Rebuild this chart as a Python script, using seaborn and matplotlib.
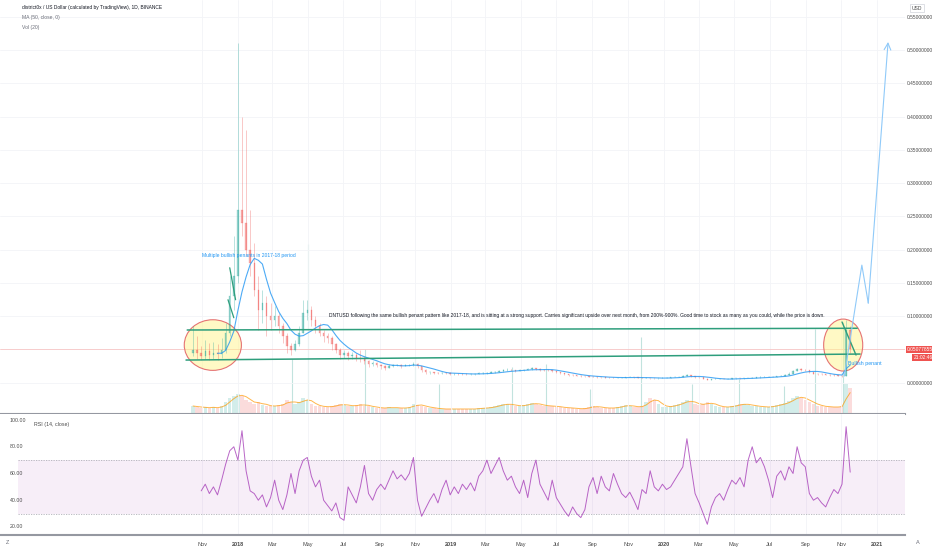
import numpy as np
import pandas as pd
import matplotlib
matplotlib.use("Agg")
import matplotlib.pyplot as plt
import matplotlib.transforms as mtransforms
from matplotlib.patches import Ellipse
import seaborn as sns

# ---------------- DATA (weekly candles) ----------------
start_date = "2017-10-16"
first_open = 0.045

closes = [
    0.050, 0.045, 0.040, 0.048, 0.042, 0.045, 0.043, 0.050, 0.075, 0.130,
    0.160, 0.260, 0.240, 0.200, 0.180, 0.140, 0.110, 0.120, 0.100, 0.095,
    0.100, 0.085, 0.070, 0.055, 0.050, 0.058, 0.075, 0.105, 0.110, 0.095,
    0.085, 0.075, 0.070, 0.068, 0.058, 0.050, 0.042, 0.045, 0.040, 0.042,
    0.038, 0.036, 0.033, 0.028, 0.030, 0.027, 0.025, 0.023, 0.026, 0.027,
    0.027, 0.026, 0.027, 0.027, 0.028, 0.025, 0.020, 0.016, 0.016, 0.015,
    0.0145, 0.015, 0.0145, 0.014, 0.014, 0.0138, 0.0135, 0.013, 0.0132, 0.0138,
    0.0145, 0.015, 0.0152, 0.016, 0.0165, 0.0175, 0.019, 0.020, 0.019, 0.0185,
    0.019, 0.0195, 0.021, 0.022, 0.021, 0.020, 0.0195, 0.019, 0.018, 0.016,
    0.015, 0.013, 0.012, 0.0115, 0.011, 0.0105, 0.0098, 0.0095, 0.009, 0.0088,
    0.0085, 0.0082, 0.008, 0.0078, 0.008, 0.0082, 0.0085, 0.009, 0.0085, 0.008,
    0.0075, 0.0075, 0.0072, 0.007, 0.0072, 0.0075, 0.008, 0.0085, 0.009, 0.0095,
    0.0105, 0.012, 0.0105, 0.009, 0.0085, 0.0065, 0.005, 0.0055, 0.006, 0.0062,
    0.006, 0.0063, 0.0068, 0.007, 0.0068, 0.007, 0.0072, 0.008, 0.0085, 0.0088,
    0.009, 0.0092, 0.0095, 0.010, 0.011, 0.012, 0.014, 0.018, 0.021, 0.020,
    0.019, 0.016, 0.014, 0.0135, 0.013, 0.0125, 0.012, 0.0115, 0.011, 0.0105,
    0.080, 0.0508,
]

highs = [
    0.085, 0.070, 0.055, 0.065, 0.060, 0.062, 0.058, 0.068, 0.090, 0.160,
    0.220, 0.510, 0.400, 0.380, 0.260, 0.210, 0.160, 0.140, 0.130, 0.120,
    0.115, 0.105, 0.090, 0.075, 0.060, 0.065, 0.085, 0.125, 0.125, 0.115,
    0.100, 0.090, 0.080, 0.075, 0.070, 0.060, 0.052, 0.050, 0.048, 0.047,
    0.045, 0.050, 0.040, 0.034, 0.033, 0.031, 0.029, 0.027, 0.028, 0.029,
    0.029, 0.028, 0.029, 0.029, 0.032, 0.030, 0.026, 0.021, 0.018, 0.017,
    0.016, 0.017, 0.016, 0.016, 0.0155, 0.015, 0.015, 0.0145, 0.0145, 0.015,
    0.016, 0.0165, 0.017, 0.0175, 0.018, 0.019, 0.021, 0.022, 0.021, 0.020,
    0.021, 0.021, 0.023, 0.024, 0.023, 0.022, 0.021, 0.021, 0.020, 0.018,
    0.017, 0.015, 0.0135, 0.013, 0.012, 0.012, 0.011, 0.0105, 0.010, 0.0098,
    0.0095, 0.0092, 0.009, 0.0088, 0.009, 0.0092, 0.0095, 0.010, 0.0095, 0.009,
    0.0085, 0.0085, 0.008, 0.008, 0.008, 0.0085, 0.009, 0.0095, 0.010, 0.0105,
    0.012, 0.0135, 0.012, 0.0105, 0.0095, 0.0088, 0.007, 0.0065, 0.0068, 0.007,
    0.0068, 0.007, 0.0075, 0.0078, 0.0076, 0.0078, 0.008, 0.009, 0.0095, 0.0098,
    0.010, 0.0102, 0.0105, 0.011, 0.0125, 0.0135, 0.016, 0.020, 0.023, 0.022,
    0.021, 0.019, 0.016, 0.015, 0.0145, 0.014, 0.0135, 0.013, 0.0125, 0.012,
    0.095, 0.085,
]

lows = [
    0.040, 0.036, 0.034, 0.036, 0.035, 0.036, 0.035, 0.038, 0.045, 0.070,
    0.110, 0.150, 0.220, 0.190, 0.160, 0.130, 0.080, 0.090, 0.070, 0.080,
    0.085, 0.075, 0.060, 0.045, 0.042, 0.048, 0.056, 0.075, 0.095, 0.085,
    0.075, 0.070, 0.062, 0.060, 0.050, 0.045, 0.036, 0.038, 0.035, 0.036,
    0.033, 0.032, 0.028, 0.024, 0.025, 0.024, 0.021, 0.020, 0.022, 0.024,
    0.025, 0.023, 0.025, 0.025, 0.025, 0.022, 0.017, 0.014, 0.014, 0.0135,
    0.013, 0.0135, 0.013, 0.0125, 0.0125, 0.0125, 0.012, 0.012, 0.012, 0.0125,
    0.013, 0.014, 0.014, 0.0145, 0.015, 0.016, 0.017, 0.0185, 0.0175, 0.017,
    0.0175, 0.018, 0.019, 0.020, 0.0195, 0.0185, 0.018, 0.0175, 0.0165, 0.0145,
    0.0135, 0.012, 0.011, 0.0105, 0.010, 0.0095, 0.009, 0.0088, 0.0083, 0.008,
    0.0078, 0.0076, 0.0074, 0.0072, 0.0074, 0.0076, 0.008, 0.0083, 0.0078, 0.0072,
    0.0068, 0.0068, 0.0066, 0.0064, 0.0066, 0.007, 0.0074, 0.008, 0.0085, 0.009,
    0.0095, 0.0105, 0.0095, 0.0082, 0.0075, 0.0055, 0.0042, 0.0048, 0.0054, 0.0056,
    0.0055, 0.0058, 0.0062, 0.0065, 0.0063, 0.0065, 0.0068, 0.0072, 0.008, 0.0082,
    0.0085, 0.0088, 0.009, 0.0095, 0.010, 0.011, 0.012, 0.013, 0.018, 0.018,
    0.0175, 0.015, 0.013, 0.0125, 0.012, 0.0115, 0.011, 0.0105, 0.010, 0.0095,
    0.010, 0.045,
]

volumes = [
    8, 7, 6, 7, 6, 7, 6, 8, 12, 16,
    18, 20, 18, 14, 12, 10, 12, 9, 8, 8,
    8, 9, 10, 14, 12, 10, 12, 16, 14, 10,
    8, 8, 7, 7, 8, 9, 10, 9, 8, 8,
    9, 10, 8, 8, 7, 6, 6, 6, 7, 6,
    6, 6, 6, 7, 10, 9, 8, 7, 6, 6,
    5, 5, 5, 5, 5, 5, 5, 5, 5, 5,
    6, 6, 6, 7, 8, 9, 10, 10, 9, 8,
    8, 9, 10, 11, 10, 9, 8, 8, 8, 7,
    7, 6, 6, 6, 5, 5, 6, 7, 8, 7,
    6, 6, 6, 6, 7, 8, 9, 8, 7, 7,
    8, 12, 16, 14, 10, 7, 7, 8, 9, 10,
    12, 14, 12, 10, 9, 10, 12, 10, 8, 7,
    7, 7, 8, 9, 10, 10, 9, 8, 8, 7,
    7, 7, 8, 9, 10, 11, 13, 16, 18, 16,
    14, 12, 10, 8, 8, 7, 7, 7, 7, 8,
    30, 26,
]

rsi_values = [
    np.nan, np.nan, 47, 52, 45, 50, 44, 55, 67, 77,
    80, 70, 92, 62, 47, 45, 40, 44, 35, 42,
    55, 40, 33, 44, 60, 45, 62, 70, 72, 58,
    50, 55, 40, 36, 32, 38, 27, 25, 50, 44,
    38, 50, 66, 45, 40, 48, 52, 48, 55, 62,
    56, 59, 55, 60, 72, 40, 28, 34, 40, 45,
    38, 48, 55, 44, 50, 45, 52, 48, 53, 47,
    58, 62, 70, 60, 66, 72, 62, 55, 58, 50,
    45, 55, 42, 60, 70, 52, 46, 40, 55, 42,
    37, 32, 28, 35, 30, 27, 33, 50, 57, 45,
    58, 50, 47, 60, 52, 45, 42, 46, 40, 33,
    48, 45, 62, 50, 47, 52, 48, 50, 55, 60,
    65, 86, 65, 45, 38, 30, 22, 35, 42, 45,
    40, 48, 55, 52, 57, 50, 70, 80, 68, 72,
    65, 55, 42, 58, 62, 55, 65, 60, 80, 68,
    65, 45, 40, 42, 38, 35, 42, 48, 45, 52,
    95, 61,
]

# single-day volume spikes
spike_dates = ["2018-04-03", "2018-05-01", "2018-08-07", "2018-10-31", "2018-12-12",
               "2019-04-16", "2019-06-13", "2019-08-28", "2019-11-24", "2020-02-18",
               "2020-05-09", "2020-07-26", "2020-09-17", "2020-11-03"]
spike_volumes = [55, 170, 65, 57, 30, 47, 50, 25, 77, 30, 35, 28, 85, 92]

last_price = 0.05077855

price_ticks = [0.0, 0.10, 0.15, 0.20, 0.25, 0.30, 0.35, 0.40, 0.45, 0.50, 0.55]
rsi_ticks = [100, 80, 60, 40, 20]
date_ticks = ["2017-11-01", "2018-01-01", "2018-03-01", "2018-05-01", "2018-07-01",
              "2018-09-01", "2018-11-01", "2019-01-01", "2019-03-01", "2019-05-01",
              "2019-07-01", "2019-09-01", "2019-11-01", "2020-01-01", "2020-03-01",
              "2020-05-01", "2020-07-01", "2020-09-01", "2020-11-01", "2021-01-01"]
date_labels = ["Nov", "2018", "Mar", "May", "Jul", "Sep", "Nov", "2019", "Mar", "May",
               "Jul", "Sep", "Nov", "2020", "Mar", "May", "Jul", "Sep", "Nov", "2021"]

# ---------------- DRAWINGS ----------------
resist_dates = ["2017-10-06", "2020-11-28"]
resist_prices = [0.0796, 0.0822]
support_dates = ["2017-10-04", "2020-12-03"]
support_prices = [0.0345, 0.0435]
pennant_dates = ["2020-11-02", "2020-11-26"]
pennant_prices = [0.0916, 0.042]
old_pennant_dates = [["2017-12-18", "2017-12-28"], ["2017-12-15", "2017-12-25"]]
old_pennant_prices = [[0.173, 0.125], [0.125, 0.098]]
proj_dates = ["2020-11-06", "2020-12-06", "2020-12-17", "2021-01-20"]
proj_prices = [0.0105, 0.177, 0.120, 0.512]
circle_dates = ["2017-11-19", "2020-11-04"]
circle_prices = [0.057, 0.057]
circle_widths = [98, 67]
circle_heights = [0.076, 0.078]

note_main = ("DNTUSD following the same bullish penant pattern like 2017-18, and is sitting at a "
             "strong support. Carries significant upside over next month, from 200%-900%. Good time "
             "to stock as many as you could, while the price is down.")

# ---------------- FRAME ----------------
df = pd.DataFrame({
    "date": pd.date_range(start_date, periods=len(closes), freq="7D"),
    "close": closes, "high": highs, "low": lows,
    "volume": volumes, "rsi": rsi_values,
})
df["open"] = [first_open] + closes[:-1]
df["ma"] = df["close"].rolling(7).mean()
df["vol_ma"] = df["volume"].rolling(3, min_periods=1).mean()

GREEN = "#26a69a"
RED = "#ef5350"
df["color"] = np.where(df["close"] >= df["open"], GREEN, RED)

sns.set_theme(style="white")
plt.rcParams["font.family"] = ["Liberation Sans", "DejaVu Sans"]

W, H = 932, 550
fig = plt.figure(figsize=(W / 100, H / 100), dpi=100)
main_rect = [0, 1 - 414 / H, 905 / W, 414 / H]
axv = fig.add_axes(main_rect)
ax = fig.add_axes(main_rect, sharex=axv)
ax.patch.set_alpha(0)
ax2 = fig.add_axes([0, 1 - 535 / H, 905 / W, 121 / H], sharex=axv)

# ---------------- VOLUME ----------------
axv.bar(df["date"], df["volume"], width=6, color=df["color"], alpha=0.2, linewidth=0)
axv.vlines(pd.to_datetime(spike_dates), 0, spike_volumes, color="#c2e3de", lw=0.8)
sns.lineplot(data=df, x="date", y="vol_ma", ax=axv, color="#ff9800", lw=0.7, alpha=0.7)
axv.set_ylim(0, 414)
axv.axis("off")

# ---------------- PRICE ----------------
ax.grid(True, color="#f3f4f7", lw=0.6)
ax.set_axisbelow(True)
ax.axhline(last_price, color="#f6c4c4", lw=0.6, zorder=1)

for (cd, cp, cw, ch) in zip(circle_dates, circle_prices, circle_widths, circle_heights):
    e = Ellipse((pd.Timestamp(cd), cp), cw, ch, facecolor=(1.0, 0.96, 0.55, 0.5),
                edgecolor="#e57373", lw=0.8, zorder=2)
    ax.add_patch(e)

ax.vlines(df["date"], df["low"], df["high"], colors=df["color"], lw=0.5, alpha=0.45, zorder=3)
body = (df["close"] - df["open"]).abs()
ax.bar(df["date"], body, bottom=np.minimum(df["open"], df["close"]), width=2.5,
       color=df["color"], edgecolor=df["color"], lw=0.3, alpha=0.45, zorder=3)

sns.lineplot(data=df.dropna(subset=["ma"]), x="date", y="ma", ax=ax,
             color="#2196f3", lw=0.8, alpha=0.8, zorder=4)

# trend lines / pennants
tl = "#2e9e7c"
ax.plot(pd.to_datetime(resist_dates), resist_prices, color=tl, lw=1.1, zorder=5)
ax.plot(pd.to_datetime(support_dates), support_prices, color=tl, lw=1.1, zorder=5)
ax.plot(pd.to_datetime(pennant_dates), pennant_prices, color=tl, lw=1.0, zorder=5)
for d, p in zip(old_pennant_dates, old_pennant_prices):
    ax.plot(pd.to_datetime(d), p, color=tl, lw=0.9, zorder=5)

# projection path
pd_dates = pd.to_datetime(proj_dates)
ax.plot(pd_dates[:-1], proj_prices[:-1], color="#90caf9", lw=0.8, zorder=5)
ax.annotate("", xy=(pd_dates[-1], proj_prices[-1]), xytext=(pd_dates[-2], proj_prices[-2]),
            arrowprops=dict(arrowstyle="->", color="#90caf9", lw=0.8, shrinkA=0, shrinkB=0))

# notes
ax.text(pd.Timestamp("2017-10-31"), 0.192, "Multiple bullish penants in 2017-18 period",
        color="#2196f3", fontsize=3.65, va="center", zorder=6)
ax.text(pd.Timestamp("2018-06-07"), 0.102, note_main, color="#131722", fontsize=3.5,
        va="center", zorder=6)
ax.text(pd.Timestamp("2020-11-12"), 0.030, "Bullish penant", color="#2196f3",
        fontsize=3.8, va="center", zorder=6)

ax.set_ylim(-0.0465, 0.575)
ax.yaxis.tick_right()
ax.set_yticks(price_ticks)
ax.set_yticklabels([f"{v:.8f}" for v in price_ticks])
ax.tick_params(axis="y", labelsize=3.5, length=0, pad=1.5, colors="#4a4a4a")
ax.tick_params(axis="x", labelbottom=False, length=0)
ax.set_xlabel("")
ax.set_ylabel("")
for s in ["top", "left", "right"]:
    ax.spines[s].set_visible(False)
ax.spines["bottom"].set_color("#9598a1")
ax.spines["bottom"].set_linewidth(1.5)

# last price tags
trans = mtransforms.blended_transform_factory(ax.transAxes, ax.transData)
ax.text(1.002, last_price, f"{last_price:.8f}", transform=trans, fontsize=3.5, color="white",
        va="center", ha="left", bbox=dict(boxstyle="square,pad=0.2", fc=RED, ec="none"),
        clip_on=False)
ax.annotate("21:02:46", xy=(1.0, last_price), xycoords=trans, xytext=(6.0, -6.0),
            textcoords="offset points", fontsize=3.5, color="white", va="center", ha="left",
            bbox=dict(boxstyle="square,pad=0.2", fc=RED, ec="none"), annotation_clip=False)

# ---------------- RSI ----------------
ax2.axhspan(30, 70, xmin=0.02, color="#9c27b0", alpha=0.08, lw=0)
for lvl in [30, 70]:
    ax2.axhline(lvl, xmin=0.02, color="#b0b0b8", lw=0.6, ls=(0, (1.5, 1.5)))
sns.lineplot(data=df.dropna(subset=["rsi"]), x="date", y="rsi", ax=ax2,
             color="#9c27b0", lw=0.7, alpha=0.7)
ax2.set_ylim(14.0, 104.5)
ax2.set_yticks([])
rtrans = mtransforms.blended_transform_factory(ax2.transAxes, ax2.transData)
for v in rsi_ticks:
    ax2.text(0.011, v, f"{v:.2f}", transform=rtrans, fontsize=3.8, color="#4a4a4a", va="center")
ax2.text(0.038, 97, "RSI (14, close)", transform=rtrans, fontsize=3.8, color="#4a4a4a", va="center")
ax2.set_xlabel("")
ax2.set_ylabel("")
ax2.set_xticks(pd.to_datetime(date_ticks))
ax2.set_xticklabels(date_labels)
for lab in ax2.get_xticklabels():
    if lab.get_text().isdigit():
        lab.set_fontweight("bold")
ax2.tick_params(axis="x", labelsize=4.0, length=0, pad=5, colors="#4a4a4a")
ax2.grid(True, axis="x", color="#f3f4f7", lw=0.6)
for s in ["top", "left", "right"]:
    ax2.spines[s].set_visible(False)
ax2.spines["bottom"].set_color("#9598a1")
ax2.spines["bottom"].set_linewidth(1.5)

axv.set_xlim(pd.Timestamp("2016-11-19"), pd.Timestamp("2021-02-18"))

# ---------------- HEADER ----------------
fig.text(22 / W, 1 - 7 / H, "district0x / US Dollar (calculated by TradingView), 1D, BINANCE",
         fontsize=3.5, color="#131722", va="center")
fig.text(22 / W, 1 - 17 / H, "MA (50, close, 0)", fontsize=3.6, color="#6a6d78", va="center")
fig.text(22 / W, 1 - 27 / H, "Vol (20)", fontsize=3.6, color="#6a6d78", va="center")
fig.text(917 / W, 1 - 8 / H, "USD", fontsize=3.6, color="#4a4a4a", va="center", ha="center",
         bbox=dict(boxstyle="square,pad=0.3", fc="white", ec="#d0d3da", lw=0.5))
fig.text(8 / W, 1 - 543 / H, "Z", fontsize=4.0, color="#6a6d78", va="center", ha="center")
fig.text(918 / W, 1 - 543 / H, "A", fontsize=4.0, color="#6a6d78", va="center", ha="center")

fig.savefig("out.png", dpi=100)
print("saved")
